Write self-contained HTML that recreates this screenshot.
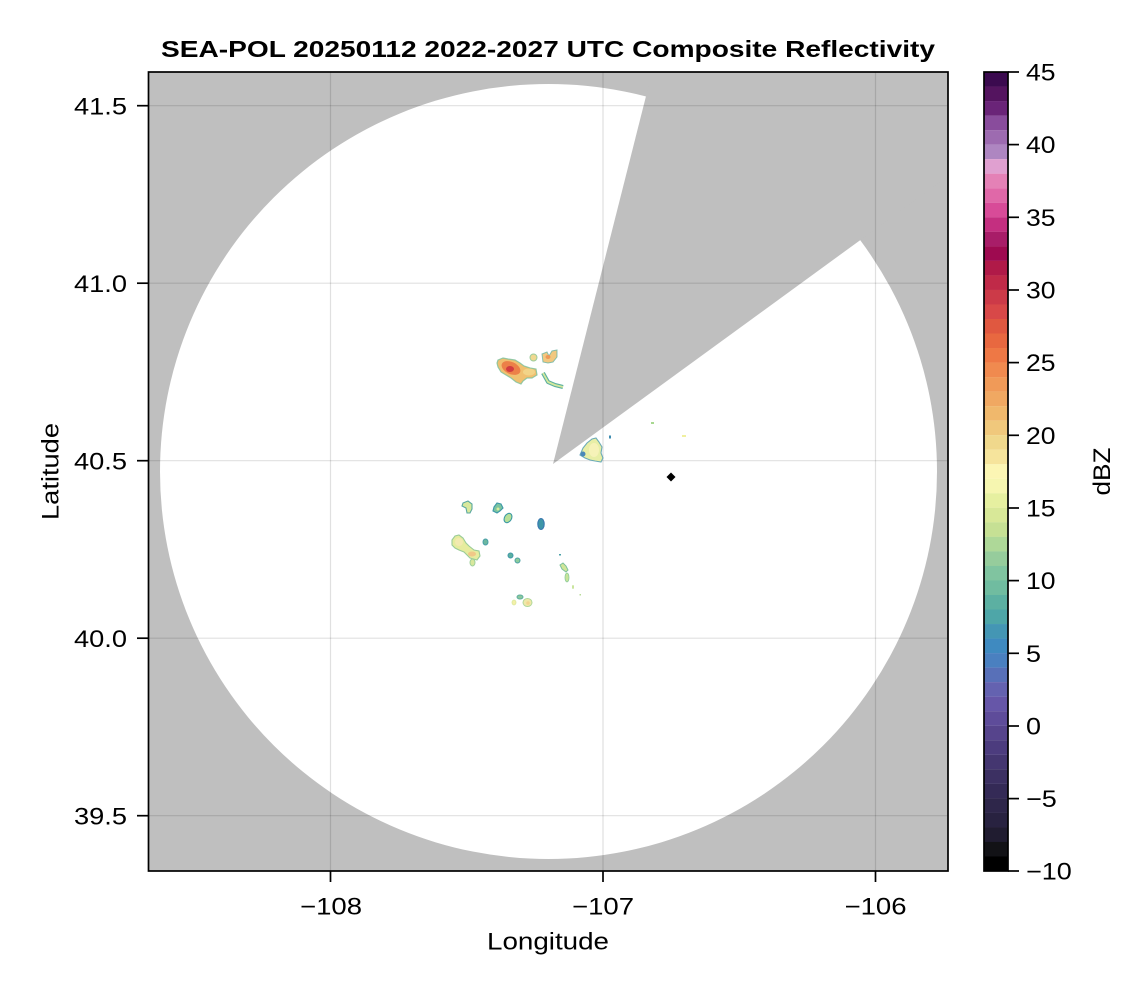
<!DOCTYPE html>
<html>
<head>
<meta charset="utf-8">
<style>
html,body{margin:0;padding:0;background:#fff;}
svg{display:block;}
text{font-family:"Liberation Sans",Arial,sans-serif;fill:#000;}
</style>
</head>
<body>
<svg width="1146" height="990" viewBox="0 0 1146 990" xmlns="http://www.w3.org/2000/svg">
<defs>
<clipPath id="pc"><rect x="148.5" y="72" width="799.5" height="799"/></clipPath>
</defs>
<rect width="1146" height="990" fill="#fff"/>

<!-- Title -->
<text x="161" y="57" font-size="23" font-weight="bold" textLength="774" lengthAdjust="spacingAndGlyphs">SEA-POL 20250112 2022-2027 UTC Composite Reflectivity</text>

<g clip-path="url(#pc)">
  <rect x="148.5" y="72" width="799.5" height="799" fill="#bfbfbf"/>
  <ellipse cx="548.5" cy="471.5" rx="388.5" ry="387.5" fill="#fff"/>
  <polygon points="553,464 660.2,40 1010,40 1010,131" fill="#bfbfbf"/>
  <!-- gridlines -->
  <g stroke="#000" stroke-opacity="0.12" stroke-width="1.2">
    <line x1="330.5" y1="72" x2="330.5" y2="871"/>
    <line x1="603" y1="72" x2="603" y2="871"/>
    <line x1="875.5" y1="72" x2="875.5" y2="871"/>
    <line x1="148" y1="105.7" x2="948" y2="105.7"/>
    <line x1="148" y1="283.2" x2="948" y2="283.2"/>
    <line x1="148" y1="460.7" x2="948" y2="460.7"/>
    <line x1="148" y1="638.2" x2="948" y2="638.2"/>
    <line x1="148" y1="815.7" x2="948" y2="815.7"/>
  </g>

  <!-- Upper echoes -->
  <path d="M498,360 L503,358 L508,359 L515,360 L520,363 L524,366 L530,368 L536,369 L537,375 L532,378 L527,378 L523,381 L521,384 L516,382 L511,378 L506,375 L501,372 L498,367 L497,363 Z" fill="#f0c070" stroke="#7cc09c" stroke-width="1.2" stroke-opacity="0.8"/>
  <ellipse cx="529" cy="372" rx="6" ry="3.5" fill="#f2d488"/>
  <ellipse cx="511" cy="368" rx="10" ry="6" transform="rotate(25 511 368)" fill="#ec8048"/>
  <ellipse cx="510" cy="369" rx="4" ry="3" fill="#d23c40"/>
  <ellipse cx="533.5" cy="357.5" rx="3.5" ry="3.5" fill="#f0d890" stroke="#9ccc9c" stroke-width="1"/>
  <path d="M542,354 L547,352 L549,356 L552,351 L557,350 L557,357 L553,362 L548,363 L543,362 Z" fill="#f2c880" stroke="#6cb4a4" stroke-width="1" stroke-opacity="0.8"/>
  <ellipse cx="548" cy="357" rx="2.5" ry="2" fill="#ee9858"/>
  <polyline points="543,373 548,382 555,385 563,387" fill="none" stroke="#5cb0a0" stroke-width="4" stroke-linejoin="round"/>
  <polyline points="543,373 548,382 555,385 563,387" fill="none" stroke="#d4e89c" stroke-width="1.8" stroke-linejoin="round"/>

  <!-- Near-vertex echo -->
  <path d="M580,455 L583,448 L587,443 L592,439 L596,438 L599,442 L602,447 L601,453 L603,458 L601,462 L595,461 L590,460 L585,458 Z" fill="#e8eea6" stroke="#4a98b0" stroke-width="1.1" stroke-opacity="0.8"/>
  <ellipse cx="594" cy="450" rx="5" ry="7" fill="#f6f2b8"/>
  <ellipse cx="583" cy="454" rx="2.5" ry="2.5" fill="#4a88b8"/>
  <rect x="609" y="435.5" width="2" height="3" fill="#3e8cb0"/>
  <rect x="651" y="422" width="3" height="2" fill="#a8d890"/>
  <rect x="682" y="435" width="4" height="2" fill="#f0f0a0"/>

  <!-- Lower echoes -->
  <path d="M463,503 L468,501 L472,504 L472,509 L470,513 L467,513 L466,508 L462,506 Z" fill="#d8e89c" stroke="#5aa8a0" stroke-width="1.1"/>
  <path d="M494,507 L497,503 L501,504 L503,508 L500,511 L497,513 L493,511 Z" fill="#7cc4a0" stroke="#3c98a8" stroke-width="1.1"/>
  <circle cx="498" cy="509" r="1.5" fill="#d8ec9c"/>
  <ellipse cx="508" cy="518" rx="3.5" ry="5" transform="rotate(30 508 518)" fill="#b8e098" stroke="#3c9aa4" stroke-width="1.1"/>
  <ellipse cx="541" cy="524" rx="3.2" ry="5.5" fill="#3e96a8" stroke="#3a78b0" stroke-width="1.1"/>
  <path d="M452,540 L455,536 L459,535 L463,538 L466,543 L469,546 L474,550 L479,551 L480,556 L477,560 L470,558 L466,554 L464,552 L459,550 L455,548 L452,545 Z" fill="#e6ec9e" stroke="#9acc98" stroke-width="1.1"/>
  <ellipse cx="459" cy="542" rx="4" ry="4" fill="#f2eab0"/>
  <ellipse cx="472" cy="554" rx="4" ry="2.5" fill="#f0c888"/>
  <ellipse cx="472.5" cy="562.5" rx="2.5" ry="3.5" fill="#d8e89c" stroke="#9fd09c" stroke-width="1"/>
  <ellipse cx="485.5" cy="542" rx="2.5" ry="3" fill="#6cb8a0" stroke="#4aa0a8" stroke-width="1"/>
  <ellipse cx="510.5" cy="555.5" rx="2.5" ry="2.5" fill="#5cb0a0" stroke="#3f98a8" stroke-width="1"/>
  <ellipse cx="517.5" cy="560.5" rx="2.5" ry="2.5" fill="#8ccc9c" stroke="#4aa0a4" stroke-width="1"/>
  <rect x="559" y="554" width="2" height="1.5" fill="#4aa0a8"/>
  <path d="M560,565 L563,563 L566,566 L568,570 L566,572 L562,569 Z" fill="#d0e698" stroke="#7cc09c" stroke-width="1"/>
  <ellipse cx="567" cy="577.5" rx="2" ry="4.5" fill="#c8e49a" stroke="#8ccc9c" stroke-width="0.8"/>
  <ellipse cx="573" cy="587" rx="1" ry="2" fill="#c8e49a"/>
  <rect x="579.5" y="594" width="1.5" height="1.5" fill="#b8dc98"/>
  <ellipse cx="520" cy="597" rx="3" ry="2" fill="#8cc89c" stroke="#60b0a0" stroke-width="1"/>
  <ellipse cx="527.5" cy="602.5" rx="4.5" ry="4" fill="#f0e8a8" stroke="#b0d89a" stroke-width="1"/>
  <circle cx="528" cy="603" r="1.8" fill="#f2d490"/>
  <ellipse cx="514" cy="602.5" rx="2" ry="2.5" fill="#f4f0a8" stroke="#d8e89c" stroke-width="0.8"/>

  <!-- radar marker -->
  <polygon points="671,472.5 675.5,477 671,481.5 666.5,477" fill="#000"/>
</g>

<!-- Axis frame -->
<rect x="148.5" y="72" width="799.5" height="799" fill="none" stroke="#000" stroke-width="1.7"/>
<g stroke="#000" stroke-width="1.7">
  <line x1="137" y1="105.7" x2="148" y2="105.7"/>
  <line x1="137" y1="283.2" x2="148" y2="283.2"/>
  <line x1="137" y1="460.7" x2="148" y2="460.7"/>
  <line x1="137" y1="638.2" x2="148" y2="638.2"/>
  <line x1="137" y1="815.7" x2="148" y2="815.7"/>
  <line x1="330.5" y1="871" x2="330.5" y2="882"/>
  <line x1="603" y1="871" x2="603" y2="882"/>
  <line x1="875.5" y1="871" x2="875.5" y2="882"/>
</g>
<g font-size="24">
  <text x="74" y="114.3" textLength="53" lengthAdjust="spacingAndGlyphs">41.5</text>
  <text x="74" y="291.8" textLength="53" lengthAdjust="spacingAndGlyphs">41.0</text>
  <text x="74" y="469.3" textLength="53" lengthAdjust="spacingAndGlyphs">40.5</text>
  <text x="74" y="646.8" textLength="53" lengthAdjust="spacingAndGlyphs">40.0</text>
  <text x="74" y="824.3" textLength="53" lengthAdjust="spacingAndGlyphs">39.5</text>
  <text x="300" y="914.5" textLength="62" lengthAdjust="spacingAndGlyphs">−108</text>
  <text x="572" y="914.5" textLength="62" lengthAdjust="spacingAndGlyphs">−107</text>
  <text x="844.5" y="914.5" textLength="62" lengthAdjust="spacingAndGlyphs">−106</text>
  <text x="487" y="949.5" textLength="122" lengthAdjust="spacingAndGlyphs">Longitude</text>
  <text transform="translate(58.5,471.5) rotate(-90)" x="-48.5" y="0" textLength="97" lengthAdjust="spacingAndGlyphs">Latitude</text>
  <text transform="translate(1110,471.5) rotate(-90)" x="-24" y="0" textLength="48" lengthAdjust="spacingAndGlyphs">dBZ</text>
</g>

<!-- Colorbar -->
<g>
<rect x="984" y="72" width="24" height="14.6" fill="#3b0a4f"/>
<rect x="984" y="86.53" width="24" height="14.6" fill="#54145f"/>
<rect x="984" y="101.05" width="24" height="14.6" fill="#6a2478"/>
<rect x="984" y="115.58" width="24" height="14.6" fill="#894c9c"/>
<rect x="984" y="130.11" width="24" height="14.6" fill="#9d6bb0"/>
<rect x="984" y="144.64" width="24" height="14.6" fill="#ae86c1"/>
<rect x="984" y="159.16" width="24" height="14.6" fill="#e0a0d0"/>
<rect x="984" y="173.69" width="24" height="14.6" fill="#e481b6"/>
<rect x="984" y="188.22" width="24" height="14.6" fill="#e068a8"/>
<rect x="984" y="202.74" width="24" height="14.6" fill="#d84b98"/>
<rect x="984" y="217.27" width="24" height="14.6" fill="#c42f80"/>
<rect x="984" y="231.80" width="24" height="14.6" fill="#a81d68"/>
<rect x="984" y="246.32" width="24" height="14.6" fill="#9e0a50"/>
<rect x="984" y="260.85" width="24" height="14.6" fill="#b01a48"/>
<rect x="984" y="275.38" width="24" height="14.6" fill="#c02a48"/>
<rect x="984" y="289.91" width="24" height="14.6" fill="#cc3a48"/>
<rect x="984" y="304.43" width="24" height="14.6" fill="#d84848"/>
<rect x="984" y="318.96" width="24" height="14.6" fill="#e05840"/>
<rect x="984" y="333.49" width="24" height="14.6" fill="#e86840"/>
<rect x="984" y="348.01" width="24" height="14.6" fill="#ee7845"/>
<rect x="984" y="362.54" width="24" height="14.6" fill="#f08a4f"/>
<rect x="984" y="377.07" width="24" height="14.6" fill="#f09a58"/>
<rect x="984" y="391.59" width="24" height="14.6" fill="#f0a862"/>
<rect x="984" y="406.12" width="24" height="14.6" fill="#f0b86c"/>
<rect x="984" y="420.65" width="24" height="14.6" fill="#f0c87c"/>
<rect x="984" y="435.18" width="24" height="14.6" fill="#f0d88c"/>
<rect x="984" y="449.70" width="24" height="14.6" fill="#f6e49c"/>
<rect x="984" y="464.23" width="24" height="14.6" fill="#fcf6b4"/>
<rect x="984" y="478.76" width="24" height="14.6" fill="#f6f6b0"/>
<rect x="984" y="493.28" width="24" height="14.6" fill="#e6f0a0"/>
<rect x="984" y="507.81" width="24" height="14.6" fill="#d8e898"/>
<rect x="984" y="522.34" width="24" height="14.6" fill="#c6e094"/>
<rect x="984" y="536.86" width="24" height="14.6" fill="#aed898"/>
<rect x="984" y="551.39" width="24" height="14.6" fill="#96cc9c"/>
<rect x="984" y="565.92" width="24" height="14.6" fill="#80c4a0"/>
<rect x="984" y="580.45" width="24" height="14.6" fill="#70bca0"/>
<rect x="984" y="594.97" width="24" height="14.6" fill="#5cb0a2"/>
<rect x="984" y="609.50" width="24" height="14.6" fill="#4ea6a8"/>
<rect x="984" y="624.03" width="24" height="14.6" fill="#4496b4"/>
<rect x="984" y="638.55" width="24" height="14.6" fill="#3f8ac0"/>
<rect x="984" y="653.08" width="24" height="14.6" fill="#4a80c0"/>
<rect x="984" y="667.61" width="24" height="14.6" fill="#5870b8"/>
<rect x="984" y="682.13" width="24" height="14.6" fill="#6462b0"/>
<rect x="984" y="696.66" width="24" height="14.6" fill="#6656a8"/>
<rect x="984" y="711.19" width="24" height="14.6" fill="#5e4c9a"/>
<rect x="984" y="725.72" width="24" height="14.6" fill="#56448c"/>
<rect x="984" y="740.24" width="24" height="14.6" fill="#4c3c7e"/>
<rect x="984" y="754.77" width="24" height="14.6" fill="#443670"/>
<rect x="984" y="769.30" width="24" height="14.6" fill="#3c3062"/>
<rect x="984" y="783.82" width="24" height="14.6" fill="#342a56"/>
<rect x="984" y="798.35" width="24" height="14.6" fill="#2e264a"/>
<rect x="984" y="812.88" width="24" height="14.6" fill="#282240"/>
<rect x="984" y="827.40" width="24" height="14.6" fill="#201c30"/>
<rect x="984" y="841.93" width="24" height="14.6" fill="#121216"/>
<rect x="984" y="856.46" width="24" height="14.54" fill="#000000"/>
</g>
<rect x="984" y="72" width="24" height="799" fill="none" stroke="#000" stroke-width="1.7"/>
<g stroke="#000" stroke-width="1.7">
  <line x1="1008" y1="72" x2="1019" y2="72"/>
  <line x1="1008" y1="144.6" x2="1019" y2="144.6"/>
  <line x1="1008" y1="217.3" x2="1019" y2="217.3"/>
  <line x1="1008" y1="290" x2="1019" y2="290"/>
  <line x1="1008" y1="362.6" x2="1019" y2="362.6"/>
  <line x1="1008" y1="435.3" x2="1019" y2="435.3"/>
  <line x1="1008" y1="508" x2="1019" y2="508"/>
  <line x1="1008" y1="580.6" x2="1019" y2="580.6"/>
  <line x1="1008" y1="653.3" x2="1019" y2="653.3"/>
  <line x1="1008" y1="726" x2="1019" y2="726"/>
  <line x1="1008" y1="798.6" x2="1019" y2="798.6"/>
  <line x1="1008" y1="871" x2="1019" y2="871"/>
</g>
<g font-size="24">
  <text x="1026" y="80.6" textLength="29.5" lengthAdjust="spacingAndGlyphs">45</text>
  <text x="1026" y="153.2" textLength="29.5" lengthAdjust="spacingAndGlyphs">40</text>
  <text x="1026" y="225.9" textLength="29.5" lengthAdjust="spacingAndGlyphs">35</text>
  <text x="1026" y="298.6" textLength="29.5" lengthAdjust="spacingAndGlyphs">30</text>
  <text x="1026" y="371.2" textLength="29.5" lengthAdjust="spacingAndGlyphs">25</text>
  <text x="1026" y="443.9" textLength="29.5" lengthAdjust="spacingAndGlyphs">20</text>
  <text x="1026" y="516.6" textLength="29.5" lengthAdjust="spacingAndGlyphs">15</text>
  <text x="1026" y="589.2" textLength="29.5" lengthAdjust="spacingAndGlyphs">10</text>
  <text x="1026" y="661.9" textLength="15" lengthAdjust="spacingAndGlyphs">5</text>
  <text x="1026" y="734.6" textLength="15" lengthAdjust="spacingAndGlyphs">0</text>
  <text x="1026" y="807.2" textLength="30.8" lengthAdjust="spacingAndGlyphs">−5</text>
  <text x="1026" y="879.6" textLength="45.8" lengthAdjust="spacingAndGlyphs">−10</text>
</g>
</svg>
</body>
</html>
